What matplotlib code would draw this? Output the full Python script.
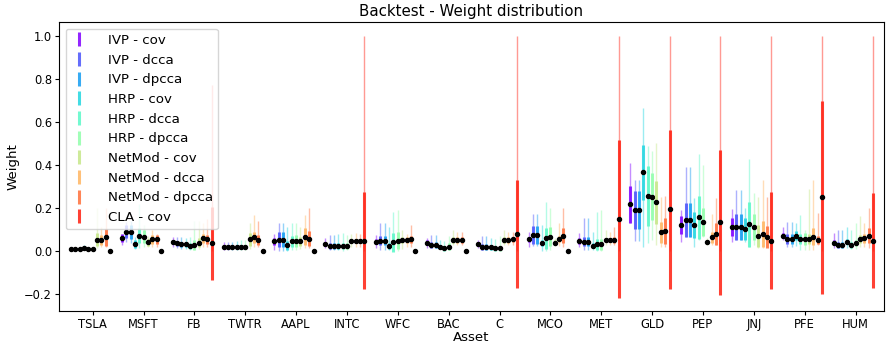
import matplotlib
matplotlib.use("Agg")
import matplotlib.pyplot as plt
from matplotlib.lines import Line2D
import numpy as np

# assets and methods
assets = ["TSLA", "MSFT", "FB", "TWTR", "AAPL", "INTC", "WFC", "BAC", "C",
          "MCO", "MET", "GLD", "PEP", "JNJ", "PFE", "HUM"]
methods = ["IVP - cov", "IVP - dcca", "IVP - dpcca", "HRP - cov", "HRP - dcca",
           "HRP - dpcca", "NetMod - cov", "NetMod - dcca", "NetMod - dpcca", "CLA - cov"]

# one row per asset, one column per method
w_mean = [
    [0.010, 0.008, 0.008, 0.015, 0.009, 0.008, 0.052, 0.052, 0.063, 0.000],
    [0.059, 0.090, 0.090, 0.031, 0.071, 0.067, 0.040, 0.054, 0.054, 0.000],
    [0.043, 0.036, 0.031, 0.031, 0.023, 0.028, 0.039, 0.059, 0.054, 0.036],
    [0.020, 0.020, 0.020, 0.020, 0.020, 0.020, 0.054, 0.064, 0.051, 0.000],
    [0.045, 0.052, 0.052, 0.026, 0.045, 0.045, 0.045, 0.066, 0.056, 0.000],
    [0.033, 0.023, 0.023, 0.023, 0.023, 0.023, 0.048, 0.048, 0.048, 0.048],
    [0.043, 0.048, 0.048, 0.023, 0.040, 0.048, 0.051, 0.051, 0.054, 0.000],
    [0.039, 0.028, 0.028, 0.020, 0.012, 0.020, 0.051, 0.051, 0.051, 0.000],
    [0.033, 0.020, 0.020, 0.018, 0.012, 0.012, 0.051, 0.051, 0.054, 0.078],
    [0.054, 0.074, 0.074, 0.036, 0.059, 0.067, 0.039, 0.055, 0.070, 0.000],
    [0.046, 0.043, 0.043, 0.025, 0.031, 0.031, 0.051, 0.051, 0.051, 0.150],
    [0.217, 0.191, 0.191, 0.366, 0.257, 0.253, 0.226, 0.087, 0.093, 0.195],
    [0.121, 0.144, 0.144, 0.121, 0.157, 0.136, 0.043, 0.064, 0.079, 0.133],
    [0.113, 0.113, 0.113, 0.102, 0.124, 0.113, 0.070, 0.079, 0.064, 0.048],
    [0.071, 0.056, 0.056, 0.071, 0.056, 0.056, 0.056, 0.067, 0.051, 0.250],
    [0.039, 0.028, 0.028, 0.043, 0.028, 0.036, 0.056, 0.059, 0.070, 0.048],
]
w_std = [
    [0.004, 0.003, 0.003, 0.006, 0.003, 0.003, 0.030, 0.022, 0.040, 0.000],
    [0.018, 0.030, 0.033, 0.018, 0.035, 0.030, 0.015, 0.022, 0.020, 0.000],
    [0.010, 0.012, 0.012, 0.012, 0.015, 0.025, 0.020, 0.020, 0.020, 0.170],
    [0.008, 0.008, 0.008, 0.008, 0.010, 0.010, 0.030, 0.025, 0.025, 0.000],
    [0.015, 0.035, 0.035, 0.020, 0.025, 0.028, 0.020, 0.040, 0.035, 0.000],
    [0.010, 0.014, 0.014, 0.014, 0.015, 0.014, 0.010, 0.010, 0.010, 0.225],
    [0.012, 0.020, 0.020, 0.015, 0.045, 0.040, 0.015, 0.015, 0.015, 0.000],
    [0.010, 0.012, 0.012, 0.010, 0.010, 0.015, 0.012, 0.012, 0.012, 0.000],
    [0.010, 0.014, 0.014, 0.012, 0.010, 0.010, 0.015, 0.012, 0.012, 0.250],
    [0.012, 0.040, 0.040, 0.015, 0.050, 0.045, 0.010, 0.015, 0.035, 0.000],
    [0.015, 0.020, 0.020, 0.010, 0.025, 0.025, 0.010, 0.010, 0.012, 0.367],
    [0.087, 0.090, 0.090, 0.127, 0.140, 0.110, 0.100, 0.050, 0.060, 0.370],
    [0.040, 0.080, 0.080, 0.060, 0.100, 0.065, 0.010, 0.025, 0.050, 0.337],
    [0.042, 0.060, 0.060, 0.050, 0.105, 0.060, 0.050, 0.060, 0.050, 0.225],
    [0.012, 0.025, 0.025, 0.020, 0.025, 0.030, 0.025, 0.040, 0.020, 0.448],
    [0.010, 0.012, 0.012, 0.012, 0.014, 0.014, 0.018, 0.020, 0.035, 0.222],
]
w_min = [
    [0.004, 0.004, 0.004, 0.005, 0.004, 0.004, 0.015, 0.020, 0.020, 0.000],
    [0.030, 0.040, 0.035, 0.010, 0.015, 0.020, 0.020, 0.020, 0.020, 0.000],
    [0.020, 0.012, 0.010, 0.008, 0.004, 0.004, 0.010, 0.020, 0.020, 0.000],
    [0.005, 0.005, 0.005, 0.005, 0.004, 0.004, 0.010, 0.020, 0.020, 0.000],
    [0.005, 0.000, 0.000, 0.000, 0.005, 0.005, 0.010, 0.015, 0.015, 0.000],
    [0.012, 0.005, 0.005, 0.005, 0.000, 0.005, 0.020, 0.020, 0.020, 0.000],
    [0.012, 0.005, 0.005, 0.005, 0.000, 0.000, 0.010, 0.020, 0.020, 0.000],
    [0.012, 0.012, 0.012, 0.008, 0.004, 0.005, 0.030, 0.030, 0.030, 0.000],
    [0.012, 0.005, 0.005, 0.005, 0.005, 0.005, 0.030, 0.030, 0.030, 0.000],
    [0.017, 0.023, 0.023, 0.000, 0.000, 0.005, 0.025, 0.025, 0.020, 0.000],
    [0.020, 0.005, 0.005, 0.005, 0.000, 0.000, 0.030, 0.030, 0.030, 0.000],
    [0.130, 0.045, 0.045, 0.020, 0.036, 0.050, 0.028, 0.020, 0.020, 0.000],
    [0.043, 0.067, 0.067, 0.020, 0.050, 0.067, 0.030, 0.030, 0.030, 0.000],
    [0.043, 0.051, 0.051, 0.040, 0.017, 0.030, 0.012, 0.012, 0.020, 0.000],
    [0.050, 0.020, 0.020, 0.025, 0.005, 0.005, 0.005, 0.005, 0.030, 0.000],
    [0.015, 0.012, 0.012, 0.012, 0.010, 0.010, 0.020, 0.020, 0.015, 0.000],
]
w_max = [
    [0.016, 0.012, 0.012, 0.028, 0.014, 0.012, 0.200, 0.110, 0.200, 0.000],
    [0.080, 0.136, 0.140, 0.065, 0.220, 0.120, 0.070, 0.100, 0.080, 0.000],
    [0.065, 0.065, 0.065, 0.060, 0.065, 0.140, 0.140, 0.130, 0.150, 0.770],
    [0.040, 0.043, 0.043, 0.045, 0.050, 0.050, 0.130, 0.167, 0.140, 0.000],
    [0.080, 0.130, 0.130, 0.110, 0.130, 0.130, 0.110, 0.167, 0.200, 0.000],
    [0.059, 0.074, 0.074, 0.078, 0.085, 0.074, 0.080, 0.085, 0.080, 1.000],
    [0.074, 0.129, 0.129, 0.110, 0.183, 0.190, 0.100, 0.080, 0.120, 0.000],
    [0.059, 0.074, 0.074, 0.050, 0.045, 0.070, 0.100, 0.090, 0.090, 0.000],
    [0.050, 0.070, 0.070, 0.060, 0.055, 0.070, 0.100, 0.090, 0.090, 1.000],
    [0.090, 0.170, 0.170, 0.120, 0.230, 0.200, 0.060, 0.130, 0.200, 0.000],
    [0.085, 0.152, 0.152, 0.090, 0.183, 0.190, 0.100, 0.090, 0.110, 1.000],
    [0.410, 0.330, 0.330, 0.664, 0.490, 0.467, 0.500, 0.250, 0.255, 1.000],
    [0.190, 0.390, 0.390, 0.245, 0.450, 0.400, 0.060, 0.170, 0.245, 1.000],
    [0.194, 0.284, 0.284, 0.200, 0.426, 0.270, 0.250, 0.330, 0.250, 1.000],
    [0.113, 0.136, 0.136, 0.130, 0.167, 0.100, 0.290, 0.330, 0.175, 1.000],
    [0.085, 0.098, 0.098, 0.113, 0.098, 0.128, 0.163, 0.130, 0.198, 1.000],
]

w_mean = np.array(w_mean)
w_std = np.array(w_std)
w_min = np.array(w_min)
w_max = np.array(w_max)

colors = plt.cm.rainbow(np.linspace(0, 0.96, len(methods)))
step = 0.0856
x = np.arange(len(assets))

fig = plt.figure(figsize=(8.88, 3.46), dpi=100)
ax = fig.add_axes([59/888, 1 - 311/346, (884 - 59)/888, (311 - 22)/346])

handles = []
for j, m in enumerate(methods):
    xs = x + (j - 5) * step
    # min - max range
    ax.vlines(xs, w_min[:, j], w_max[:, j], color=colors[j], alpha=0.45, linewidth=1.0)
    # mean +- std
    ax.vlines(xs, w_mean[:, j] - w_std[:, j], w_mean[:, j] + w_std[:, j],
              color=colors[j], alpha=0.85, linewidth=2.2)
    ax.plot(xs, w_mean[:, j], 'o', color='black', markersize=2.9)
    handles.append(Line2D([], [], color=colors[j], marker='|', linestyle='None',
                          markersize=10, markeredgewidth=2.2, alpha=0.85))

ax.legend(handles, methods, loc='upper left', fontsize=9.6,
          handlelength=1.15, handletextpad=1.6)
ax.set_xticks(x)
ax.set_xticklabels(assets)
ax.tick_params(labelsize=8.3, length=2.8, pad=2.2)
ax.set_xlim(-0.663, 15.56)
ax.set_ylim(-0.279, 1.065)
ax.set_xlabel("Asset", fontsize=9.6, labelpad=0)
ax.set_ylabel("Weight", fontsize=9.6, labelpad=3)
ax.set_title("Backtest - Weight distribution", fontsize=10.8, pad=4)

fig.savefig("out.png", dpi=100)
